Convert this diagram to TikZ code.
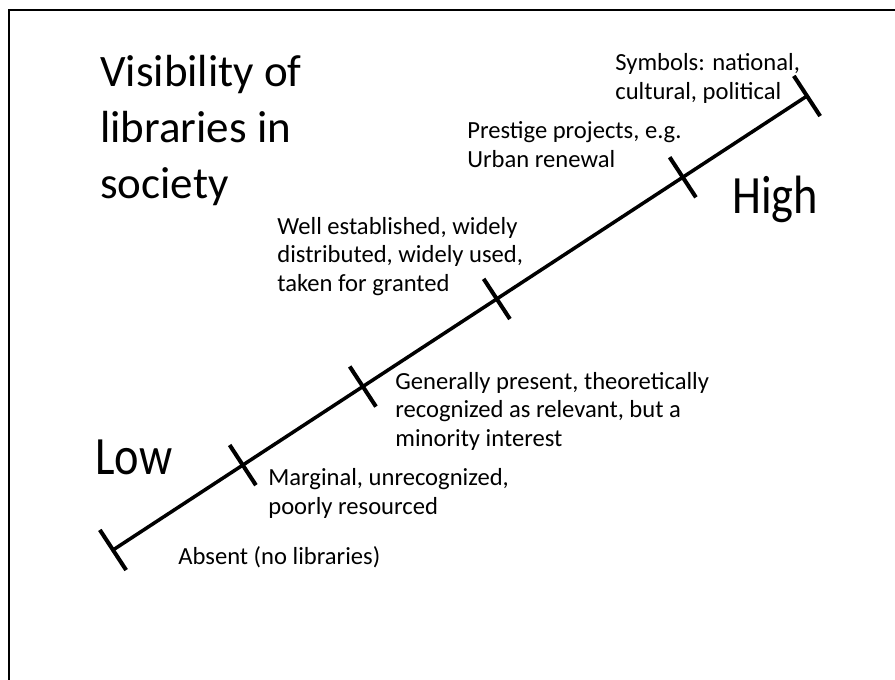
\documentclass[tikz,border=0pt]{standalone}
\usepackage{fontspec}
\setmainfont{Carlito}
\newfontfamily\narrowfont[FakeStretch=0.86]{Carlito}
\usetikzlibrary{calc, positioning}

\tikzset{
  tickmark/.style={line width=2.3pt},
  lbl/.style={font=\fontsize{14}{16.5}\selectfont, align=left, anchor=base west, inner sep=0pt},
  bigword/.style={font=\narrowfont\fontsize{30.7}{36}\selectfont, anchor=base west, inner sep=0pt},
  titletext/.style={font=\fontsize{25.6}{32}\selectfont, align=left, anchor=base west, inner sep=0pt},
}

\begin{document}
\begin{tikzpicture}
    \useasboundingbox (0,0) rectangle (17.9,13.6);
    \draw[line width=1.5pt] (0.18,0) -- (0.18,13.4) -- (17.9,13.4);

    % base anchor = last line
    \node[titletext] (title) at (2.0,9.62) {Visibility of\\libraries in\\society};

    \coordinate (lo) at (2.26,2.60);
    \coordinate (hi) at (16.14,11.68);
    \draw[line width=2pt] (lo) -- (hi);

    % ticks along the scale
    \foreach \p/\n in {0/t0, 0.187/t1, 0.36/t2, 0.553/t3, 0.821/t4, 1/t5} {
        \coordinate (\n) at ($(lo)!\p!(hi)$);
        \draw[tickmark] ($(\n)+(-56.8:0.48)$) -- ($(\n)+(123.2:0.48)$);
    }

    \node[bigword] (low)  at (1.9,4.1)   {Low};
    \node[bigword] (high) at (14.64,9.32) {High};

    \node[lbl] (absent)    at (3.56,2.3)  {Absent (no libraries)};
    \node[lbl] (marginal)  at (5.36,3.3)  {Marginal, unrecognized,\\poorly resourced};
    \node[lbl] (generally) at (7.9,4.66)  {Generally present, theoretically\\recognized as relevant, but a\\minority interest};
    \node[lbl] (wellest)   at (5.54,7.76) {Well established, widely\\distributed, widely used,\\taken for granted};
    \node[lbl] (prestige)  at (9.34,10.24) {Prestige projects, e.g.\\Urban renewal};
    \node[lbl] (symbols)   at (12.3,11.6) {Symbols: national,\\cultural, political};
\end{tikzpicture}
\end{document}
